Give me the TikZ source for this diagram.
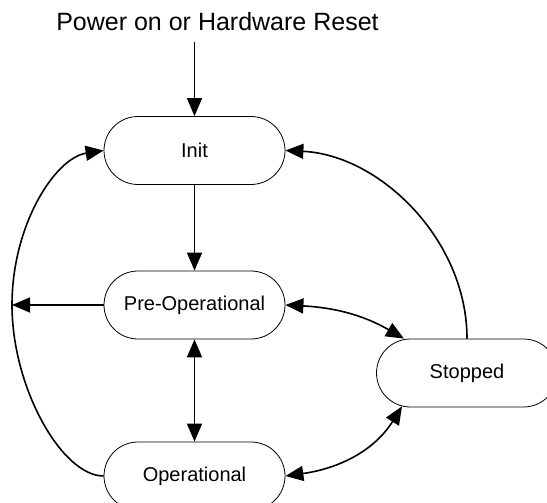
\documentclass[tikz,border=0pt]{standalone}
\usepackage{fontspec}
\setmainfont{Liberation Sans}
\usetikzlibrary{shapes.misc,arrows.meta}
\begin{document}
\begin{tikzpicture}[x=1pt,y=-1pt,
  state/.style={draw,line width=0.8pt,rounded rectangle,minimum width=181pt,minimum height=68pt,inner sep=0pt,font=\fontsize{20}{24}\selectfont},
  tip/.style={Triangle[length=18pt,width=15pt]},
  conn/.style={line width=1.6pt,-{Triangle[length=18pt,width=15pt]}},
  dconn/.style={line width=1.6pt,{Triangle[length=18pt,width=15pt]}-{Triangle[length=18pt,width=15pt]}}]
\useasboundingbox (0,0) rectangle (547,503);
\node[font=\fontsize{25}{30}\selectfont] (title) at (217.5,22) {Power on or Hardware Reset};
\coordinate (tstart) at (194.5,42);
\node[state] (init) at (194.5,150.5) {Init};
\node[state] (preop) at (194.5,305) {Pre-Operational};
\node[state] (op) at (194.5,476) {Operational};
\node[state] (stop) at (467,373) {Stopped};
\coordinate (lft) at (12,305);
\coordinate (stA) at ([xshift=-63pt]stop.north);
\coordinate (stB) at ([xshift=-65pt,yshift=1pt]stop.south);
\coordinate (stC) at (stop.north);

\draw[conn] (tstart) -- (init.north);
\draw[conn] (init.south) -- (preop.north);
\draw[dconn] (preop.south) -- (op.north);
\draw[conn] (preop.west) -- (lft);
\draw[conn] (op.west) .. controls (62,476) and (12,388) .. (lft)
   .. controls (12,225) and (55,158) .. (init.west);
\draw[conn] (stC) .. controls (467,240) and (380,155) .. (init.east);
\draw[dconn] (preop.east) to[out=-3,in=150] (stA);
\draw[dconn] (op.east) to[out=8,in=238] (stB);
\end{tikzpicture}
\end{document}
